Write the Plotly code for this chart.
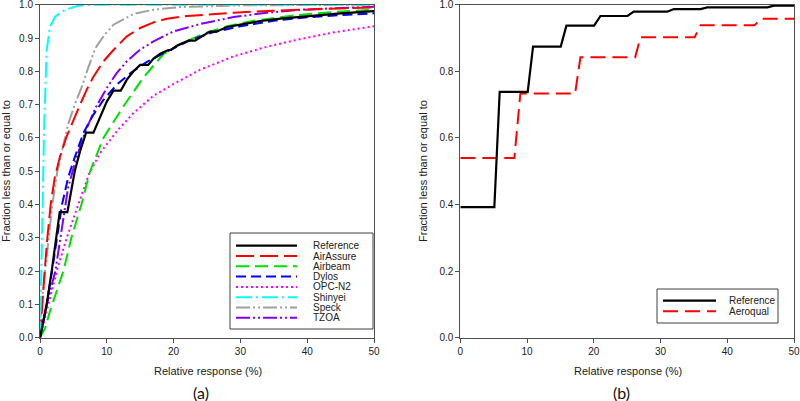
import plotly.graph_objects as go

# ---------------- Data (a) ----------------
series_a = ["Reference", "AirAssure", "Airbeam", "Dylos", "OPC-N2", "Shinyei", "Speck", "TZOA"]

ref_x = [0, 1, 1.75, 2.4, 2.95, 4.1, 5.2, 6.0, 6.9, 8.0, 9.0, 10.0, 11.0, 12.1, 13.0, 14.0, 15.0, 16.2, 17.0,
         18.0, 19.2, 19.6, 20.5, 21.4, 22.2, 23.2, 24.3, 25.4, 26.4, 28, 30, 33, 36, 40, 45, 50]
ref_y = [0, 0.10, 0.20, 0.30, 0.377, 0.377, 0.50, 0.56, 0.616, 0.616, 0.665, 0.709, 0.742, 0.742, 0.775, 0.80,
         0.819, 0.819, 0.838, 0.853, 0.864, 0.864, 0.877, 0.886, 0.892, 0.892, 0.906, 0.919, 0.919, 0.933, 0.940,
         0.951, 0.958, 0.966, 0.974, 0.981]

airassure_x = [0, 0.3, 0.7, 1.1, 1.6, 2.2, 3, 4, 5, 6, 7, 8, 9.5, 11, 13, 15, 17, 19, 22, 25, 29, 35, 40, 45, 50]
airassure_y = [0, 0.1, 0.2, 0.3, 0.4, 0.48, 0.545, 0.605, 0.655, 0.7, 0.745, 0.784, 0.83, 0.864, 0.905, 0.93,
               0.947, 0.958, 0.966, 0.971, 0.976, 0.982, 0.986, 0.989, 0.992]

airbeam_x = [0, 0.8, 1.5, 2.5, 3.5, 4.7, 6.2, 7.5, 9.5, 12.5, 15.5, 18.5, 21, 24.4, 28, 32, 38, 44, 50]
airbeam_y = [0, 0.03, 0.08, 0.14, 0.2, 0.3, 0.4, 0.5, 0.6, 0.695, 0.782, 0.852, 0.882, 0.912, 0.935, 0.952,
             0.968, 0.978, 0.985]

dylos_x = [0, 1.0, 1.8, 2.6, 3.3, 4.2, 5, 6.5, 8, 9.5, 11.5, 13.5, 16, 18.5, 20.5, 22.5, 26, 30, 35, 40, 45, 50]
dylos_y = [0, 0.1, 0.2, 0.3, 0.4, 0.48, 0.53, 0.615, 0.67, 0.714, 0.76, 0.794, 0.828, 0.854, 0.875, 0.894,
           0.918, 0.935, 0.952, 0.962, 0.969, 0.974]

opc_x = [0, 0.5, 1.25, 2.5, 4, 5.7, 7.3, 9, 11.5, 14, 17, 20, 24, 29, 34, 39, 44, 50]
opc_y = [0, 0.04, 0.1, 0.2, 0.3, 0.4, 0.49, 0.555, 0.62, 0.675, 0.727, 0.762, 0.805, 0.845, 0.874, 0.897,
         0.917, 0.935]

shinyei_x = [0, 0.15, 0.3, 0.45, 0.6, 0.8, 1.0, 1.5, 2.25, 3.7, 5.7, 8.2, 50]
shinyei_y = [0, 0.12, 0.3, 0.45, 0.62, 0.78, 0.864, 0.934, 0.964, 0.984, 0.997, 1.0, 1.0]

speck_x = [0, 0.25, 0.75, 1.35, 1.85, 2.6, 3.7, 4.2, 5.2, 6.2, 7.2, 8.3, 9.5, 11, 14, 17, 21, 25, 30, 40, 50]
speck_y = [0, 0.1, 0.2, 0.3, 0.4, 0.5, 0.6, 0.64, 0.7, 0.75, 0.81, 0.87, 0.905, 0.94, 0.972, 0.985, 0.993,
           0.996, 0.998, 0.999, 1.0]

tzoa_x = [0, 1, 2.3, 3.3, 4.2, 5.3, 6.7, 8.3, 10, 11.5, 13, 15, 17, 20, 24, 29, 34, 39, 45, 50]
tzoa_y = [0, 0.1, 0.2, 0.33, 0.45, 0.53, 0.615, 0.69, 0.75, 0.795, 0.83, 0.865, 0.89, 0.92, 0.942, 0.963,
          0.976, 0.985, 0.991, 0.994]

# ---------------- Data (b) ----------------
series_b = ["Reference", "Aeroqual"]
bref_x = [0, 5.1, 5.9, 10.1, 10.9, 15.05, 15.9, 20.05, 21.0, 25.05, 26.0, 31.0, 32.0, 36.0, 37.0, 46.0, 47.0, 50]
bref_y = [0.392, 0.392, 0.738, 0.738, 0.874, 0.874, 0.937, 0.937, 0.966, 0.966, 0.979, 0.979, 0.987, 0.987,
          0.992, 0.992, 0.997, 0.997]
baer_x = [0, 8.1, 9.0, 17.2, 18.0, 26.2, 27.0, 35.1, 36.0, 44.1, 45.0, 50]
baer_y = [0.54, 0.54, 0.733, 0.733, 0.842, 0.842, 0.902, 0.902, 0.938, 0.938, 0.958, 0.958]

xticks = [0, 10, 20, 30, 40, 50]
yticks_a = [0.0, 0.1, 0.2, 0.3, 0.4, 0.5, 0.6, 0.7, 0.8, 0.9, 1.0]
yticks_b = [0.0, 0.2, 0.4, 0.6, 0.8, 1.0]

x_title = "Relative response (%)"
y_title = "Fraction less than or equal to"

# ---------------- Styles ----------------
styles_a = {
    "Reference": dict(color="#000000", dash="solid", width=2.2),
    "AirAssure": dict(color="#FF0000", dash="18px,6px", width=2),
    "Airbeam": dict(color="#00E000", dash="13px,6px", width=2),
    "Dylos": dict(color="#0000FF", dash="10px,5px", width=2),
    "OPC-N2": dict(color="#FF00FF", dash="2px,3px", width=2),
    "Shinyei": dict(color="#00FFFF", dash="16px,4px,2px,4px", width=2),
    "Speck": dict(color="#A0A0A0", dash="14px,3px,2px,3px,2px,3px", width=2),
    "TZOA": dict(color="#8000FF", dash="14px,3px,2px,3px,2px,3px", width=2),
}
data_a = {
    "Reference": (ref_x, ref_y), "AirAssure": (airassure_x, airassure_y), "Airbeam": (airbeam_x, airbeam_y),
    "Dylos": (dylos_x, dylos_y), "OPC-N2": (opc_x, opc_y), "Shinyei": (shinyei_x, shinyei_y),
    "Speck": (speck_x, speck_y), "TZOA": (tzoa_x, tzoa_y),
}
styles_b = {
    "Reference": dict(color="#000000", dash="solid", width=2.2),
    "Aeroqual": dict(color="#FF0000", dash="15px,7px", width=2),
}
data_b = {"Reference": (bref_x, bref_y), "Aeroqual": (baer_x, baer_y)}

W, H = 800, 401
FONT = "Liberation Sans, Arial, sans-serif"
TXT = "#222222"

fig = go.Figure()
draw_order = ["OPC-N2", "Airbeam", "Speck", "TZOA", "Dylos", "AirAssure", "Shinyei", "Reference"]
for name in draw_order:
    x, y = data_a[name]
    fig.add_trace(go.Scatter(x=x, y=y, mode="lines", name=name, line=styles_a[name],
                             xaxis="x", yaxis="y", showlegend=False))
for name in ["Aeroqual", "Reference"]:
    x, y = data_b[name]
    fig.add_trace(go.Scatter(x=x, y=y, mode="lines", name=name, line=styles_b[name],
                             xaxis="x2", yaxis="y2", showlegend=False))


def px(xp):
    return xp / W


def py(yp):
    return 1 - yp / H


ydom = [py(337.7), py(4.7)]
axis_common = dict(showline=True, linecolor="#505050", linewidth=1, mirror=True, ticks="outside",
                   ticklen=4, tickcolor="#505050", showgrid=False, zeroline=False, automargin=False,
                   ticklabeloverflow="allow",
                   tickfont=dict(family=FONT, size=10, color=TXT))

fig.update_layout(
    width=W, height=H, margin=dict(l=0, r=0, t=0, b=0, autoexpand=False),
    paper_bgcolor="white", plot_bgcolor="white",
    xaxis=dict(domain=[px(40), px(374)], range=[0, 50], tickvals=xticks, anchor="y", **axis_common),
    yaxis=dict(domain=ydom, range=[0, 1], tickvals=yticks_a, tickformat=".1f", anchor="x", **axis_common),
    xaxis2=dict(domain=[px(460.3), px(794)], range=[0, 50], tickvals=xticks, anchor="y2", **axis_common),
    yaxis2=dict(domain=ydom, range=[0, 1], tickvals=yticks_b, tickformat=".1f", anchor="x2", **axis_common),
)

# axis titles
for cx in (208, 628):
    fig.add_annotation(text=x_title, x=px(cx), y=py(370.5), xref="paper", yref="paper", showarrow=False,
                       xanchor="center", yanchor="middle", font=dict(family=FONT, size=11, color=TXT))
for cx in (6, 423):
    fig.add_annotation(text=y_title, x=px(cx), y=py(171), xref="paper", yref="paper", showarrow=False,
                       textangle=-90, xanchor="center", yanchor="middle", font=dict(family=FONT, size=11, color=TXT))

# panel labels
for lbl, cx in (("(a)", 201), ("(b)", 621)):
    fig.add_annotation(text=lbl, x=px(cx), y=py(392.5), xref="paper", yref="paper", showarrow=False,
                       xanchor="center", yanchor="middle", borderpad=0,
                       font=dict(family="Lato, Open Sans, sans-serif", size=16, color="#111111"))


# custom legends (key boxes)
def add_legend(names, styles, box, row0, gap, line_x0, line_x1, text_x):
    x0, y0, x1, y1 = box
    fig.add_shape(type="rect", xref="paper", yref="paper", x0=px(x0), x1=px(x1), y0=py(y1), y1=py(y0),
                  line=dict(color="#404040", width=1), fillcolor="white", layer="above")
    for i, name in enumerate(names):
        yy = row0 + i * gap
        st = styles[name]
        fig.add_shape(type="line", xref="paper", yref="paper", x0=px(line_x0), x1=px(line_x1),
                      y0=py(yy), y1=py(yy), layer="above",
                      line=dict(color=st["color"], dash=st["dash"], width=st["width"]))
        fig.add_annotation(text=name, x=px(text_x), y=py(yy), xref="paper", yref="paper", showarrow=False,
                           xanchor="left", yanchor="middle", font=dict(family=FONT, size=10, color=TXT))


add_legend(series_a, styles_a, (230, 233, 373, 329), 245.7, 10.3, 236, 297, 311)
add_legend(series_b, styles_b, (657, 289, 778, 323), 300.7, 10.6, 663, 716, 727)

fig.write_html("out.html", config={"displayModeBar": False, "staticPlot": True},
               post_script="document.body.style.margin='0';document.body.style.padding='0';"
                           "document.documentElement.style.overflow='hidden';")
